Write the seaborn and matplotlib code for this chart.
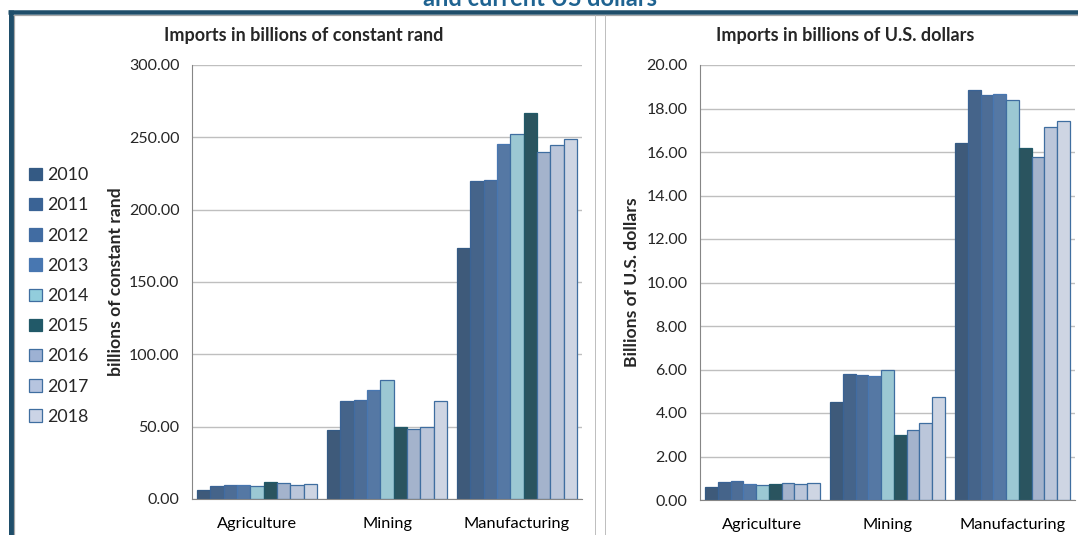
import numpy as np
import pandas as pd
import matplotlib
matplotlib.use("Agg")
import matplotlib.pyplot as plt
import matplotlib.ticker as mtick
from matplotlib.lines import Line2D
import seaborn as sns

sns.set_style("white")
plt.rcParams["font.family"] = ["Lato", "DejaVu Sans"]

# data
sectors = ["Agriculture", "Mining", "Manufacturing"]
years = ["2010", "2011", "2012", "2013", "2014", "2015", "2016", "2017", "2018"]

rand_agri = [6.0, 9.2, 9.7, 9.5, 8.8, 11.8, 10.9, 9.7, 10.2]
rand_mining = [47.7, 67.6, 68.7, 75.5, 82.0, 49.8, 48.4, 49.8, 67.8]
rand_manuf = [173.6, 219.9, 220.8, 245.3, 252.0, 267.0, 239.6, 244.4, 248.6]

usd_agri = [0.58, 0.81, 0.86, 0.75, 0.67, 0.72, 0.76, 0.72, 0.76]
usd_mining = [4.49, 5.78, 5.77, 5.72, 6.00, 3.01, 3.21, 3.52, 4.72]
usd_manuf = [16.43, 18.85, 18.60, 18.68, 18.38, 16.17, 15.76, 17.14, 17.43]

bar_colors = ["#345A84", "#3A6395", "#416CA2", "#4877B1", "#92CDDC",
              "#215968", "#9DB1D3", "#B6C4DF", "#CBD4E6"]
edge_colors = ["#345A84", "#3A6395", "#416CA2", "#4877B1", "#3F6EA0",
               "#215968", "#3F6EA0", "#3F6EA0", "#3F6EA0"]


def long_table(agri, mining, manuf):
    rows = []
    for sector, vals in zip(sectors, [agri, mining, manuf]):
        for yr, v in zip(years, vals):
            rows.append({"sector": sector, "year": yr, "value": v})
    return pd.DataFrame(rows)


df_rand = long_table(rand_agri, rand_mining, rand_manuf)
df_usd = long_table(usd_agri, usd_mining, usd_manuf)

W, H = 1078, 535
fig = plt.figure(figsize=(W / 100, H / 100), dpi=100)
fig.patch.set_facecolor("white")


def px_axes(x0, x1, y_top, y_bot):
    return fig.add_axes([x0 / W, 1 - y_bot / H, (x1 - x0) / W, (y_bot - y_top) / H])


ax1 = px_axes(192, 582, 65, 499)
ax2 = px_axes(700, 1075, 65, 500)


def draw(ax, df, ymax, step):
    sns.barplot(data=df, x="sector", y="value", hue="year", order=sectors,
                hue_order=years, palette=bar_colors, width=0.92, gap=0,
                linewidth=0.9, legend=False, ax=ax)
    for cont, ec in zip(ax.containers, edge_colors):
        for p in cont:
            p.set_edgecolor(ec)
    ax.set_ylim(0, ymax)
    ax.set_xlim(-0.5, 2.5)
    ax.set_yticks(np.arange(0, ymax + step / 2, step))
    ax.yaxis.set_major_formatter(mtick.FormatStrFormatter("%.2f"))
    ax.set_xticks([-0.5, 0.5, 1.5, 2.5], minor=False)
    ax.set_xticklabels([])
    ax.set_xticks([0, 1, 2], minor=True)
    ax.set_xticklabels(sectors, minor=True)
    ax.tick_params(axis="x", which="major", length=5, color="#868686", width=0.8, direction="out")
    ax.tick_params(axis="x", which="minor", length=0, labelsize=11.8, pad=13, colors="black")
    ax.tick_params(axis="y", length=5, color="#868686", width=0.8, direction="out",
                   labelsize=11.5, pad=4)
    ax.grid(axis="y", color="#BFBFBF", linewidth=1)
    ax.set_axisbelow(True)
    for s in ["top", "right"]:
        ax.spines[s].set_visible(False)
    for s in ["left", "bottom"]:
        ax.spines[s].set_color("#868686")
        ax.spines[s].set_linewidth(0.8)
    ax.set_xlabel("")


draw(ax1, df_rand, 300, 50)
draw(ax2, df_usd, 20, 2)

ax1.set_ylabel("billions of constant rand", fontsize=12.6, fontweight="bold")
ax1.yaxis.set_label_coords(-0.174, 0.5)
ax2.set_ylabel("Billions of U.S. dollars", fontsize=12.6, fontweight="bold")
ax2.yaxis.set_label_coords(-0.16, 0.5)

fig.text(304 / W, 1 - 35 / H, "Imports in billions of constant rand", ha="center",
         va="center", fontsize=13, fontweight="bold")
fig.text(845 / W, 1 - 35 / H, "Imports in billions of U.S. dollars", ha="center",
         va="center", fontsize=13, fontweight="bold")

# clipped slide title at the very top
fig.text(540 / W, 1 + 1 / H, "and current US dollars", ha="center", va="center",
         fontsize=17, fontweight="bold", color="#1F6391")

# legend
handles = [plt.Rectangle((0, 0), 1, 1, facecolor=c, edgecolor=e, linewidth=0.9)
           for c, e in zip(bar_colors, edge_colors)]
fig.legend(handles, years, loc="upper left", bbox_to_anchor=(22 / W, 1 - 160 / H),
           frameon=False, fontsize=12.8, handlelength=0.7, handleheight=0.7,
           handletextpad=0.3, labelspacing=0.8, borderaxespad=0)

# slide frame and panel dividers
def fline(x0, y0, x1, y1, color, lw):
    fig.add_artist(Line2D([x0 / W, x1 / W], [1 - y0 / H, 1 - y1 / H], color=color,
                          linewidth=lw * 0.72, transform=fig.transFigure,
                          solid_capstyle="butt"))


fline(8, 12, W, 12, "#1F4E6A", 4.5)
fline(10.5, 10, 10.5, H, "#1F4E6A", 5)
fline(13, 15, W, 15, "#A6A6A6", 1.2)
fline(13.8, 15, 13.8, H, "#A6A6A6", 1.2)
fline(594.5, 15, 594.5, H, "#BFBFBF", 1)
fline(604.5, 15, 604.5, H, "#BFBFBF", 1)

fig.savefig("out.png", dpi=100)
